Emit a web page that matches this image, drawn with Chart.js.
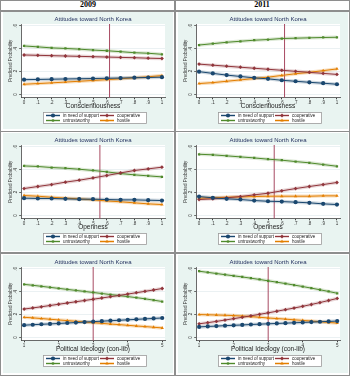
<!DOCTYPE html>
<html lang="en">
<head>
<meta charset="UTF-8">
<title>Attitudes toward North Korea</title>
<script src="https://cdn.jsdelivr.net/npm/chart.js@4.4.0/dist/chart.umd.min.js"></script>
<style>
  body { margin: 0; background: #fff; }
  #page { position: relative; width: 350px; height: 376px; overflow: hidden; background: #fff; }
  .rule { position: absolute; background: #8e8e8e; }
  .year { position: absolute; top: 0; width: 172px; height: 10px; line-height: 10px; text-align: center;
          font: bold 8px "Liberation Serif", "DejaVu Serif", serif; color: #000; }
  .panel { position: absolute; width: 170px; background: #e9f4f1; }
  .panel canvas { display: block; }
</style>
</head>
<body>
<div id="page">
  <div class="year" style="left:2px">2009</div>
  <div class="year" style="left:176px">2011</div>

  <div class="panel" style="left:3px;top:12px;height:117px"><canvas id="c09a" width="170" height="117"></canvas></div>
  <div class="panel" style="left:178px;top:12px;height:117px"><canvas id="c11a" width="170" height="117"></canvas></div>
  <div class="panel" style="left:3px;top:133px;height:118px"><canvas id="c09b" width="170" height="118"></canvas></div>
  <div class="panel" style="left:178px;top:133px;height:118px"><canvas id="c11b" width="170" height="118"></canvas></div>
  <div class="panel" style="left:3px;top:255px;height:118px"><canvas id="c09c" width="170" height="118"></canvas></div>
  <div class="panel" style="left:178px;top:255px;height:118px"><canvas id="c11c" width="170" height="118"></canvas></div>

  <!-- table rules -->
  <div class="rule" style="left:0;top:0;width:350px;height:1px"></div>
  <div class="rule" style="left:0;top:10px;width:350px;height:1.5px"></div>
  <div class="rule" style="left:0;top:130.5px;width:350px;height:1.5px"></div>
  <div class="rule" style="left:0;top:252px;width:350px;height:1.5px"></div>
  <div class="rule" style="left:0;top:375px;width:350px;height:1px"></div>
  <div class="rule" style="left:0;top:0;width:1px;height:376px"></div>
  <div class="rule" style="left:349px;top:0;width:1px;height:376px"></div>
  <div class="rule" style="left:174px;top:0;width:1.5px;height:376px"></div>
</div>

<script>
// x values / ticks
const unitPoints = [0, .1, .2, .3, .4, .5, .6, .7, .8, .9, 1];
const unitLabels = ['0', '.1', '.2', '.3', '.4', '.5', '.6', '.7', '.8', '.9', '1'];
const ideoPoints = [1, 1.25, 1.5, 1.75, 2, 2.25, 2.5, 2.75, 3, 3.25, 3.5, 3.75, 4, 4.25, 4.5, 4.75, 5];
const ideoTicks = [1, 2, 3, 4, 5];
const ideoLabels = ['1', '2', '3', '4', '5'];
const yTicks = [0, .2, .4, .6];
const yLabels = ['0', '.2', '.4', '.6'];
const seriesNames = ['in need of support', 'cooperative', 'untrustworthy', 'hostile'];

// 2009 - Conscientiousness
const support09c = [.130, .132, .134, .136, .138, .140, .142, .144, .147, .149, .152];
const coop09c    = [.346, .343, .340, .337, .334, .331, .328, .325, .322, .318, .315];
const untrust09c = [.425, .417, .408, .403, .397, .389, .383, .375, .366, .361, .352];
const hostile09c = [.090, .096, .102, .109, .116, .123, .130, .138, .146, .155, .166];
// 2011 - Conscientiousness
const support11c = [.200, .185, .170, .158, .146, .137, .125, .116, .107, .099, .090];
const coop11c    = [.266, .257, .248, .239, .230, .221, .212, .203, .194, .185, .176];
const untrust11c = [.433, .445, .457, .466, .475, .481, .490, .493, .496, .499, .501];
const hostile11c = [.096, .104, .116, .128, .140, .152, .167, .182, .194, .209, .224];
// 2009 - Openness
const support09o = [.152, .149, .149, .146, .143, .143, .140, .137, .137, .134, .131];
const coop09o    = [.236, .254, .271, .292, .309, .329, .350, .373, .394, .408, .423];
const untrust09o = [.434, .429, .420, .414, .405, .394, .382, .367, .356, .347, .338];
const hostile09o = [.175, .169, .160, .152, .146, .137, .128, .120, .111, .102, .096];
// 2011 - Openness
const support11o = [.166, .155, .146, .140, .131, .125, .122, .117, .111, .102, .096];
const coop11o    = [.140, .146, .155, .166, .181, .195, .216, .236, .254, .271, .289];
const untrust11o = [.536, .531, .522, .513, .504, .493, .484, .472, .461, .446, .431];
const hostile11o = [.152, .155, .160, .163, .166, .169, .169, .169, .169, .172, .172];
// 2009 - Political ideology
const support09i = [.108, .112, .116, .119, .123, .127, .131, .135, .139, .143, .147, .151, .155, .159, .163, .167, .171];
const coop09i    = [.249, .259, .269, .280, .291, .302, .313, .324, .335, .346, .357, .368, .380, .392, .404, .416, .429];
const untrust09i = [.465, .457, .448, .439, .430, .421, .412, .403, .394, .385, .376, .367, .358, .349, .339, .327, .315];
const hostile09i = [.177, .172, .166, .160, .154, .148, .142, .136, .130, .124, .118, .113, .107, .101, .096, .090, .084];
// 2011 - Political ideology
const support11i = [.093, .097, .100, .104, .107, .110, .114, .117, .120, .123, .126, .129, .132, .135, .138, .141, .144];
const coop11i    = [.120, .130, .141, .153, .165, .177, .190, .203, .216, .230, .244, .258, .273, .289, .306, .324, .342];
const untrust11i = [.580, .570, .560, .550, .540, .530, .519, .508, .496, .484, .472, .459, .446, .432, .418, .403, .387];
const hostile11i = [.201, .199, .197, .195, .192, .188, .183, .177, .171, .166, .161, .155, .150, .144, .138, .132, .126];

// sample means (vertical reference lines)
const means = { c09a: .62, c11a: .62, c09b: .55, c11b: .545, c09c: 3, c11c: 3 };

const colors = ['#1a476f', '#90353b', '#4f8a2c', '#e37e00'];
const halos = ['rgba(26,71,111,.22)', 'rgba(144,53,59,.2)', 'rgba(79,138,44,.2)', 'rgba(227,126,0,.26)'];
const shapes = ['circle', 'rectRot', 'rect', 'triangle'];
const radii = [2.1, 1.9, 1.6, 1.9];
const FONT = '"Liberation Sans", Arial, sans-serif';

const panelDecor = {
  id: 'panelDecor',
  beforeDraw(chart) {
    const a = chart.chartArea, ctx = chart.ctx;
    ctx.save();
    ctx.fillStyle = '#fff';
    ctx.fillRect(a.left, a.top, a.right - a.left, a.bottom - a.top);
    ctx.restore();
  },
  beforeDatasetsDraw(chart) {
    const a = chart.chartArea, ctx = chart.ctx;
    const x = chart.scales.x.getPixelForValue(means[chart.canvas.id]);
    ctx.save();
    ctx.strokeStyle = '#a84a62';
    ctx.lineWidth = 1;
    ctx.beginPath();
    ctx.moveTo(x, a.top);
    ctx.lineTo(x, a.bottom);
    ctx.stroke();
    ctx.restore();
  },
  afterDraw(chart) {
    const a = chart.chartArea, ctx = chart.ctx, ys = chart.scales.y;
    ctx.save();
    // title
    ctx.fillStyle = '#1f2d5c';
    ctx.font = '6px ' + FONT;
    ctx.textAlign = 'center';
    ctx.textBaseline = 'middle';
    ctx.fillText('Attitudes toward North Korea', (a.left + a.right) / 2, 7.5);
    // rotated y tick labels
    ctx.fillStyle = '#333';
    ctx.font = '4.5px ' + FONT;
    yTicks.forEach((v, i) => {
      ctx.save();
      ctx.translate(a.left - 5.5, ys.getPixelForValue(v));
      ctx.rotate(-Math.PI / 2);
      ctx.fillText(yLabels[i], 0, 0);
      ctx.restore();
    });
    // legend
    const lx = 40, ly = 100, lw = 104, lh = 12;
    ctx.fillStyle = '#fff';
    ctx.fillRect(lx, ly, lw, lh);
    ctx.strokeStyle = '#999';
    ctx.lineWidth = 0.8;
    ctx.strokeRect(lx + 0.5, ly + 0.5, lw - 1, lh - 1);
    ctx.textAlign = 'left';
    ctx.font = '4.5px ' + FONT;
    seriesNames.forEach((name, i) => {
      const x0 = lx + 3 + (i % 2) * 54;
      const y0 = ly + 3.5 + Math.floor(i / 2) * 5;
      ctx.strokeStyle = halos[i];
      ctx.lineWidth = 3;
      ctx.beginPath(); ctx.moveTo(x0, y0); ctx.lineTo(x0 + 14, y0); ctx.stroke();
      ctx.strokeStyle = colors[i];
      ctx.lineWidth = 1;
      ctx.beginPath(); ctx.moveTo(x0, y0); ctx.lineTo(x0 + 14, y0); ctx.stroke();
      ctx.fillStyle = colors[i];
      Chart.helpers.drawPoint(ctx, { pointStyle: shapes[i], radius: radii[i], rotation: 0, borderWidth: 0 }, x0 + 7, y0);
      ctx.fillStyle = '#222';
      ctx.fillText(name, x0 + 17, y0 + 0.3);
    });
    ctx.restore();
  }
};

function makePanel(id, height, xs, xTicks, xLabels, xMin, xMax, xTitle, series) {
  const datasets = [];
  series.forEach((vals, i) => {
    datasets.push({
      label: seriesNames[i],
      data: xs.map((x, k) => ({ x: x, y: vals[k] })),
      borderColor: colors[i], backgroundColor: colors[i], borderWidth: 1,
      pointStyle: shapes[i], pointRadius: radii[i], pointBorderWidth: 0,
      order: i
    });
  });
  series.forEach((vals, i) => {
    datasets.push({
      label: 'band',
      data: xs.map((x, k) => ({ x: x, y: vals[k] })),
      borderColor: halos[i], borderWidth: 3.5, pointRadius: 0,
      order: 10
    });
  });

  new Chart(document.getElementById(id), {
    type: 'line',
    data: { datasets: datasets },
    plugins: [panelDecor],
    options: {
      responsive: false,
      animation: false,
      layout: { padding: { top: 12, left: 5, right: 8, bottom: height - 85.5 - 15 } },
      plugins: { legend: { display: false }, tooltip: { enabled: false }, title: { display: false } },
      scales: {
        x: {
          type: 'linear', min: xMin, max: xMax,
          afterFit(s) { s.height = 15; },
          afterBuildTicks(s) { s.ticks = xTicks.map(v => ({ value: v })); },
          grid: { drawOnChartArea: false, drawTicks: true, tickLength: 1.8, tickColor: '#444' },
          border: { display: true, color: '#444', width: 0.8 },
          ticks: { autoSkip: false, maxRotation: 0, padding: 0.5, color: '#333',
                   font: { size: 4.5, family: FONT },
                   callback: (v, i) => xLabels[i] },
          title: { display: true, text: xTitle, color: '#222', padding: { top: 0, bottom: 2.6 },
                   font: { size: 6.5, family: FONT } }
        },
        y: {
          min: -0.026, max: 0.617,
          afterFit(s) { s.width = 13; },
          afterBuildTicks(s) { s.ticks = yTicks.map(v => ({ value: v })); },
          grid: { color: '#e6eef0', lineWidth: 0.8, drawTicks: true, tickLength: 1.8, tickColor: '#444' },
          border: { display: true, color: '#444', width: 0.8 },
          ticks: { display: false },
          title: { display: true, text: 'Predicted Probability', color: '#333', padding: { top: 0.2, bottom: 0 },
                   font: { size: 4.6, family: FONT } }
        }
      }
    }
  });
}

makePanel('c09a', 117, unitPoints, unitPoints, unitLabels, -0.022, 1.022, 'Conscientiousness',
          [support09c, coop09c, untrust09c, hostile09c]);
makePanel('c11a', 117, unitPoints, unitPoints, unitLabels, -0.022, 1.022, 'Conscientiousness',
          [support11c, coop11c, untrust11c, hostile11c]);
makePanel('c09b', 118, unitPoints, unitPoints, unitLabels, -0.022, 1.022, 'Openness',
          [support09o, coop09o, untrust09o, hostile09o]);
makePanel('c11b', 118, unitPoints, unitPoints, unitLabels, -0.022, 1.022, 'Openness',
          [support11o, coop11o, untrust11o, hostile11o]);
makePanel('c09c', 118, ideoPoints, ideoTicks, ideoLabels, 0.91, 5.08, 'Political Ideology (con-lib)',
          [support09i, coop09i, untrust09i, hostile09i]);
makePanel('c11c', 118, ideoPoints, ideoTicks, ideoLabels, 0.91, 5.08, 'Political Ideology (con-lib)',
          [support11i, coop11i, untrust11i, hostile11i]);
</script>
</body>
</html>
